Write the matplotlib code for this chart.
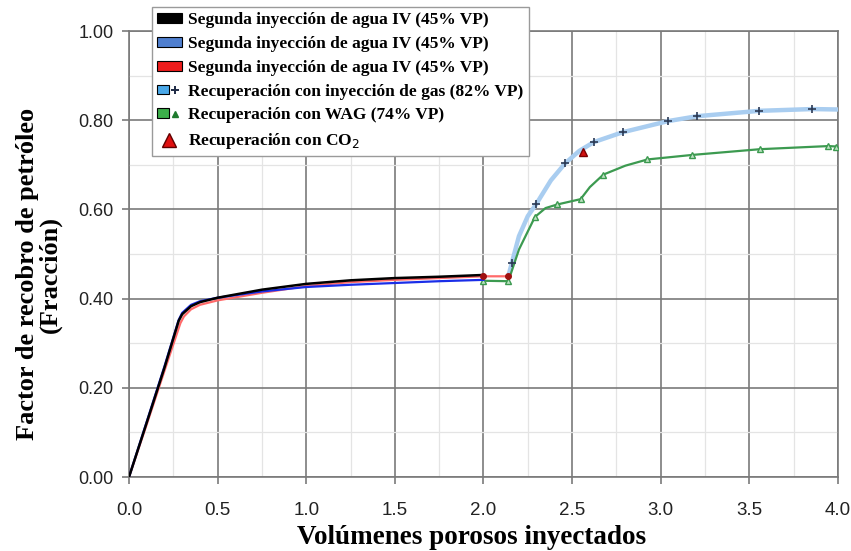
import matplotlib
matplotlib.use("Agg")
import matplotlib.pyplot as plt
from matplotlib.lines import Line2D
from matplotlib.patches import Patch
from matplotlib.legend_handler import HandlerTuple
from matplotlib.ticker import MultipleLocator

# --- data ---
water1_x = [0.0, 0.1, 0.2, 0.28, 0.30, 0.35, 0.40, 0.50, 0.75, 1.00, 1.25, 1.50, 1.75, 2.00]
water1_y = [0.0, 0.122, 0.245, 0.350, 0.365, 0.383, 0.392, 0.402, 0.420, 0.433, 0.441, 0.446, 0.449, 0.453]

water2_x = [0.0, 0.1, 0.2, 0.28, 0.30, 0.35, 0.40, 0.50, 0.75, 1.00, 1.25, 1.50, 1.75, 2.00]
water2_y = [0.0, 0.124, 0.248, 0.352, 0.368, 0.386, 0.394, 0.402, 0.416, 0.426, 0.431, 0.435, 0.439, 0.442]

water3_x = [0.0, 0.1, 0.2, 0.29, 0.31, 0.35, 0.40, 0.50, 0.75, 1.00, 1.25, 1.50, 1.75, 2.00, 2.14]
water3_y = [0.0, 0.118, 0.238, 0.345, 0.360, 0.376, 0.386, 0.396, 0.413, 0.428, 0.437, 0.442, 0.446, 0.450, 0.450]

gas_x = [2.14, 2.159, 2.20, 2.25, 2.296, 2.38, 2.46, 2.54, 2.623, 2.785, 3.042, 3.206, 3.556, 3.855, 4.0]
gas_y = [0.450, 0.479, 0.540, 0.585, 0.611, 0.665, 0.703, 0.731, 0.751, 0.773, 0.798, 0.809, 0.821, 0.825, 0.824]
gas_mx = [2.159, 2.296, 2.46, 2.623, 2.785, 3.042, 3.206, 3.556, 3.855]
gas_my = [0.479, 0.611, 0.703, 0.751, 0.773, 0.798, 0.809, 0.821, 0.825]

wag_x = [2.0, 2.14, 2.20, 2.29, 2.35, 2.416, 2.548, 2.60, 2.676, 2.80, 2.925, 3.174, 3.56, 3.946, 3.99]
wag_y = [0.440, 0.439, 0.510, 0.583, 0.603, 0.611, 0.623, 0.650, 0.678, 0.698, 0.712, 0.722, 0.735, 0.742, 0.741]
wag_mx = [2.0, 2.14, 2.29, 2.416, 2.548, 2.676, 2.925, 3.174, 3.56, 3.946, 3.99]
wag_my = [0.440, 0.439, 0.583, 0.611, 0.623, 0.678, 0.712, 0.722, 0.735, 0.742, 0.741]

co2_x = [2.563]
co2_y = [0.729]

red_mx = [2.0, 2.14]
red_my = [0.450, 0.450]

labels = [
    "Segunda inyección de agua IV (45% VP)",
    "Segunda inyección de agua IV (45% VP)",
    "Segunda inyección de agua IV (45% VP)",
    "Recuperación con inyección de gas (82% VP)",
    "Recuperación con WAG (74% VP)",
    "Recuperación con CO$_2$",
]

serif = ["Liberation Serif", "DejaVu Serif"]

fig = plt.figure(figsize=(8.51, 5.51), dpi=100)
ax = fig.add_axes([129 / 851, 74 / 551, 709 / 851, 446 / 551])

# grid
ax.set_xlim(0, 4.0)
ax.set_ylim(0, 1.0)
ax.xaxis.set_major_locator(MultipleLocator(0.5))
ax.xaxis.set_minor_locator(MultipleLocator(0.25))
ax.yaxis.set_major_locator(MultipleLocator(0.2))
ax.yaxis.set_minor_locator(MultipleLocator(0.1))
ax.grid(which="minor", color="#e4e4e4", linewidth=0.9)
ax.grid(which="major", color="#7a7a7a", linewidth=1.2)
ax.set_axisbelow(True)
for s in ax.spines.values():
    s.set_color("#7a7a7a")
    s.set_linewidth(1.2)
ax.tick_params(which="major", direction="out", length=5, color="#7a7a7a", width=1.2)
ax.tick_params(which="minor", length=0)

# curves
ax.plot(gas_x, gas_y, color="#a9cdf0", linewidth=3.2, zorder=3)
ax.plot(gas_mx, gas_my, linestyle="none", marker="+", color="#2b3a55",
        markersize=6, markeredgewidth=1.2, zorder=4)
ax.plot(wag_x, wag_y, color="#3c9a50", linewidth=1.6, zorder=3)
ax.plot(wag_mx, wag_my, linestyle="none", marker="^", markersize=5,
        markerfacecolor="#bfe3c4", markeredgecolor="#3c9a50", zorder=4)
ax.plot(water3_x, water3_y, color="#ff6a6a", linewidth=1.6, zorder=5)
ax.plot(water2_x, water2_y, color="#1a2ee8", linewidth=1.6, zorder=5)
ax.plot(water1_x, water1_y, color="black", linewidth=1.8, zorder=6)
ax.plot(red_mx, red_my, linestyle="none", marker="o", markersize=4,
        color="#a01010", zorder=7)
ax.plot(co2_x, co2_y, linestyle="none", marker="^", markersize=6,
        color="#d01010", markeredgecolor="#7a0000", zorder=7)

# tick labels
ax.set_xticks([0, 0.5, 1.0, 1.5, 2.0, 2.5, 3.0, 3.5, 4.0])
ax.set_xticklabels(["0.0", "0.5", "1.0", "1.5", "2.0", "2.5", "3.0", "3.5", "4.0"],
                   family=["Liberation Sans", "DejaVu Sans"], fontsize=13.5, color="#222222")
ax.set_yticks([0, 0.2, 0.4, 0.6, 0.8, 1.0])
ax.set_yticklabels(["0.00", "0.20", "0.40", "0.60", "0.80", "1.00"],
                   family=["Liberation Sans", "DejaVu Sans"], fontsize=13, color="#222222")
ax.tick_params(axis="x", pad=13)
ax.tick_params(axis="y", pad=6)

ax.set_xlabel("Volúmenes porosos inyectados", family=serif, fontweight="bold",
              fontsize=19.5)
ax.xaxis.set_label_coords(0.483, -0.108)
ax.set_ylabel("Factor de recobro de petróleo\n(Fracción)", family=serif,
              fontweight="bold", fontsize=19, linespacing=1.0)
ax.yaxis.set_label_coords(-0.094, 0.455)

# legend
def box(c):
    return Patch(facecolor=c, edgecolor="black", linewidth=0.8)

handles = [
    box("black"),
    box("#4f7fcf"),
    box("#ee1c1c"),
    (box("#4aa8e8"), Line2D([], [], linestyle="none", marker="+", color="#1d2a44",
                            markersize=6, markeredgewidth=1.4)),
    (box("#3cae4a"), Line2D([], [], linestyle="none", marker="^", color="#1e7a2e",
                            markersize=5)),
    Line2D([], [], linestyle="none", marker="^", markersize=10,
           markerfacecolor="#e01010", markeredgecolor="#600000"),
]
leg = fig.legend(handles, labels, loc="upper left",
                 bbox_to_anchor=(152 / 851, 1 - 7 / 551), borderaxespad=0,
                 prop={"family": serif, "weight": "bold", "size": 12.5},
                 handler_map={tuple: HandlerTuple(ndivide=None, pad=0)},
                 fancybox=False, framealpha=1, edgecolor="#9a9a9a",
                 labelspacing=0.45, handlelength=1.4, handleheight=0.5,
                 handletextpad=0.4, borderpad=0.3)
leg.get_frame().set_linewidth(1.0)
leg.set_zorder(10)

fig.savefig("out.png", dpi=100)
